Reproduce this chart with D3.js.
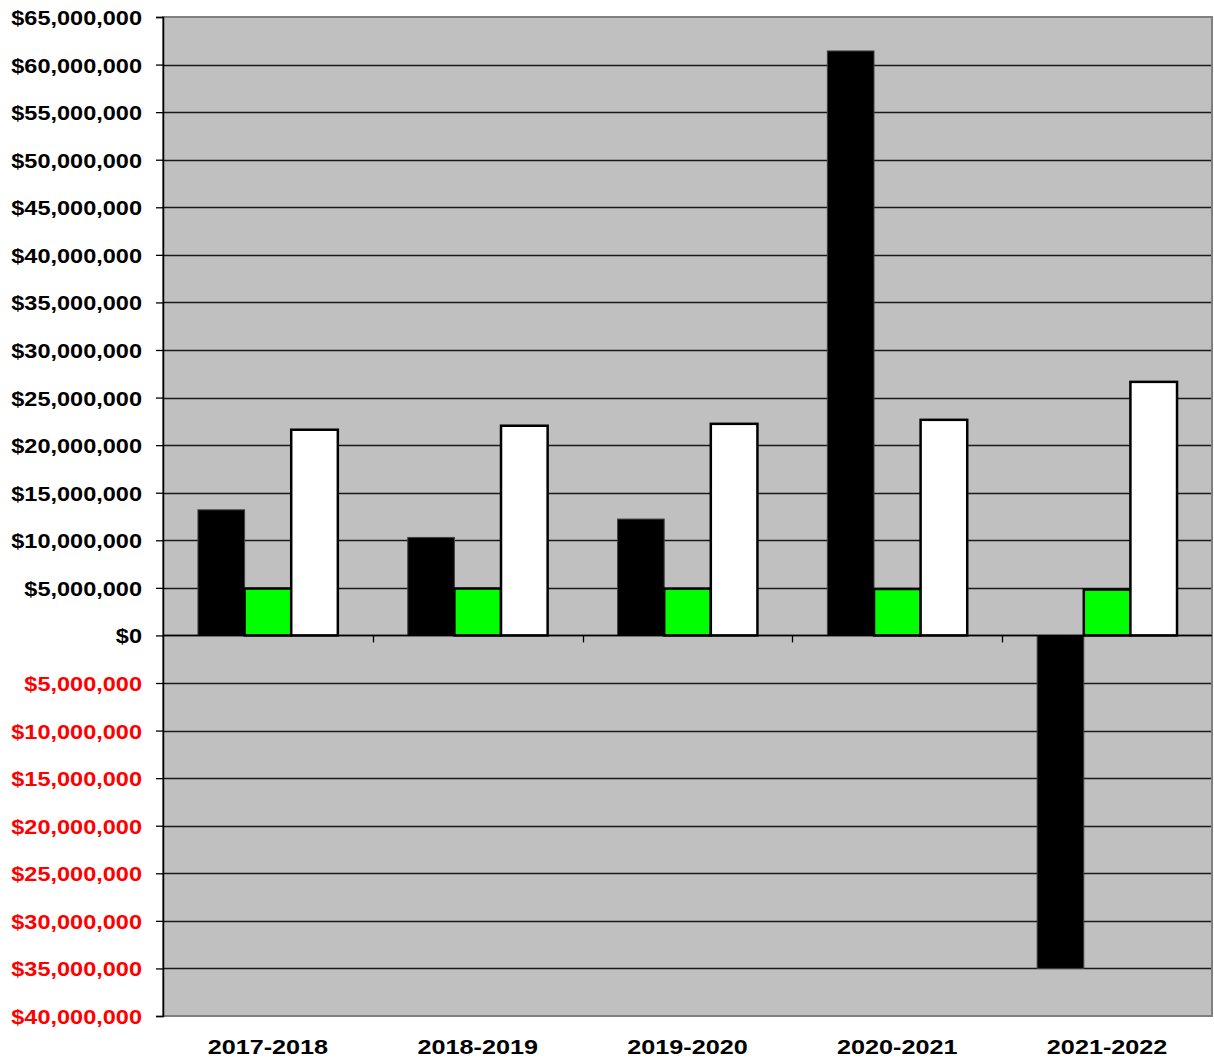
<!DOCTYPE html>
<html>
<head>
<meta charset="utf-8">
<script src="https://cdn.jsdelivr.net/npm/d3@7"></script>
<style>
  html, body { margin: 0; padding: 0; background: #fff; }
  svg { display: block; }
  text { font-family: "Liberation Sans", Arial, sans-serif; font-weight: bold; }
</style>
</head>
<body>
<svg id="chart" width="1214" height="1061"></svg>
<script>
// Fiscal years on the category axis
const years = ["2017-2018", "2018-2019", "2019-2020", "2020-2021", "2021-2022"];
// Three series per year (dollars)
const seriesBlack = [13200000, 10300000, 12230000, 61430000, -35000000];
const seriesGreen = [4930000, 4930000, 4920000, 4880000, 4820000];
const seriesWhite = [21620000, 22040000, 22240000, 22660000, 26650000];
// Value axis ticks
const yTicks = d3.range(-40000000, 65000001, 5000000);

const seriesList = [
  { key: "a", values: seriesBlack, fill: "#000000", stroke: "#404040", sw: 1 },
  { key: "b", values: seriesGreen, fill: "#00ff00", stroke: "#000000", sw: 2.5 },
  { key: "c", values: seriesWhite, fill: "#ffffff", stroke: "#000000", sw: 2.5 }
];

const svg = d3.select("#chart");
const plot = { left: 163, right: 1212, top: 17, bottom: 1016 };

const y = d3.scaleLinear().domain([-40000000, 65000000]).range([plot.bottom, plot.top]);
const x = d3.scaleBand().domain(years).range([plot.left, plot.right]).paddingInner(0).paddingOuter(0);
// three bars with a 150% gap between clusters
const inner = d3.scaleBand().domain(seriesList.map(s => s.key))
  .range([0, x.bandwidth()]).paddingInner(0).paddingOuter(0.75);

// plot background
svg.append("rect")
  .attr("x", plot.left).attr("y", plot.top)
  .attr("width", plot.right - plot.left).attr("height", plot.bottom - plot.top)
  .attr("fill", "#c0c0c0");

// horizontal gridlines
svg.append("g").selectAll("line").data(yTicks.filter(v => v !== -40000000 && v !== 65000000)).join("line")
  .attr("x1", plot.left).attr("x2", plot.right)
  .attr("y1", d => Math.round(y(d)) + 0.5).attr("y2", d => Math.round(y(d)) + 0.5)
  .attr("stroke", "#1a1a1a").attr("stroke-width", 1.3);

// plot border
svg.append("rect")
  .attr("x", plot.left).attr("y", plot.top)
  .attr("width", plot.right - plot.left).attr("height", plot.bottom - plot.top)
  .attr("fill", "none").attr("stroke", "#808080").attr("stroke-width", 2);

// value axis
const fmt = v => "$" + d3.format(",")(Math.abs(v));
const yAxis = d3.axisLeft(y).tickValues(yTicks).tickSize(7).tickPadding(14).tickFormat(fmt);
const gy = svg.append("g").attr("transform", `translate(${plot.left},0)`).call(yAxis);
gy.select(".domain").attr("stroke", "#000").attr("stroke-width", 1.5);
gy.selectAll(".tick line").attr("stroke", "#000").attr("stroke-width", 1.3);
gy.selectAll(".tick text")
  .attr("font-size", 21)
  .attr("fill", d => d < 0 ? "#ff0000" : "#000")
  .attr("dy", "0.36em")
  .each(function() {
    const t = d3.select(this);
    const tx = +t.attr("x");
    t.attr("x", tx / 1.12).attr("transform", "scale(1.12,1)");
  });

// bars
const groups = svg.append("g").selectAll("g").data(years).join("g")
  .attr("transform", d => `translate(${x(d)},0)`);
seriesList.forEach(s => {
  groups.append("rect")
    .attr("x", (d, i) => inner(s.key))
    .attr("width", inner.bandwidth())
    .attr("y", (d, i) => y(Math.max(0, s.values[i])))
    .attr("height", (d, i) => Math.abs(y(s.values[i]) - y(0)))
    .attr("fill", s.fill).attr("stroke", s.stroke).attr("stroke-width", s.sw);
});

// category axis along zero
const xAxisLine = svg.append("g");
xAxisLine.append("line")
  .attr("x1", plot.left).attr("x2", plot.right)
  .attr("y1", y(0)).attr("y2", y(0))
  .attr("stroke", "#000").attr("stroke-width", 1.5);
xAxisLine.selectAll("line.tk").data(years.slice(1)).join("line").attr("class", "tk")
  .attr("x1", d => Math.round(x(d)) + 0.5).attr("x2", d => Math.round(x(d)) + 0.5)
  .attr("y1", y(0)).attr("y2", y(0) + 7)
  .attr("stroke", "#000").attr("stroke-width", 1.3);

// category labels below the plot
svg.append("g").selectAll("text").data(years).join("text")
  .attr("x", d => (x(d) + x.bandwidth() / 2) / 1.2)
  .attr("y", 1054)
  .attr("transform", "scale(1.2,1)")
  .attr("text-anchor", "middle")
  .attr("font-size", 21)
  .attr("fill", "#000")
  .text(d => d);
</script>
</body>
</html>
